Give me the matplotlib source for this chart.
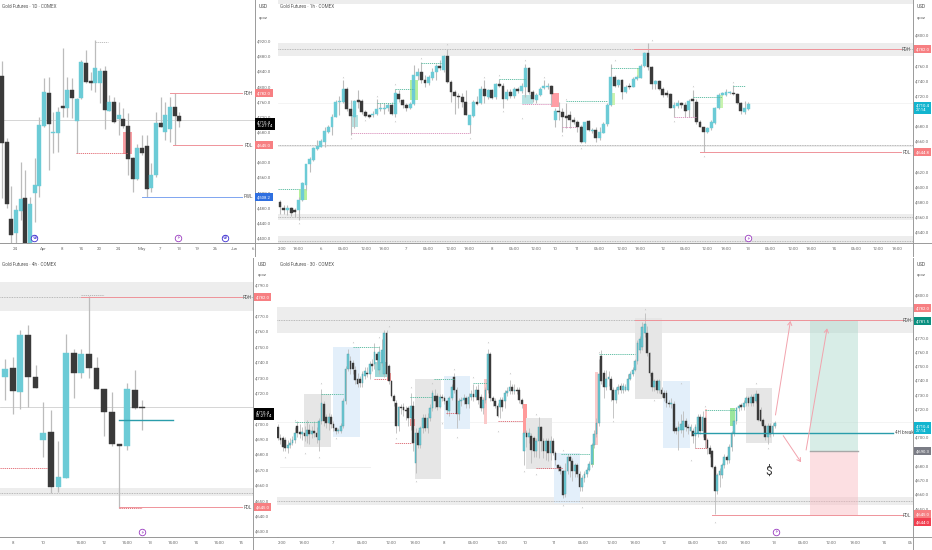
import matplotlib
matplotlib.use("Agg")
import matplotlib.pyplot as plt
from matplotlib.patches import Rectangle
from matplotlib.lines import Line2D
from matplotlib.transforms import blended_transform_factory as btf

plt.rcParams['font.family'] = ['Roboto', 'DejaVu Sans']

W, H = 932, 550
TEAL, BLACK, WICK = '#6ccbd6', '#3a3a3a', '#bcbcbc'
GREY_TXT = '#6a6a6a'
SALMON, GREEN_TAG, BLUE_TAG, CYAN_TAG, RED_TAG, GREY_TAG = '#f77f82', '#0a8f7f', '#2f6fe0', '#12b5cf', '#f23f50', '#7a7c85'

# ---------- 1D ----------
o1 = [4827,4653,4448,4413,4471,4506,4381,4519,4537,4696,4782,4675,4677,4746,4741,4790,4709,4768,4862,4812,4809,4809,4841,4735,4758,4713,4712,4696,4610,4554,4636,4642,4532,4566,4702,4680,4688,4744,4721]
c1 = [4649,4489,4407,4473,4502,4385,4489,4539,4697,4784,4700,4677,4733,4743,4790,4770,4766,4865,4812,4809,4848,4841,4737,4757,4706,4724,4696,4607,4555,4636,4623,4529,4566,4702,4693,4724,4744,4721,4708]
h1 = [4867,4662,4536,4486,4599,4579,4508,4609,4718,4821,4823,4733,4746,4902,4823,4821,4768,4869,4895,4838,4922,4847,4853,4777,4772,4759,4741,4728,4614,4647,4671,4671,4596,4733,4772,4759,4772,4783,4733]
l1 = [4504,4477,4381,4381,4447,4381,4381,4442,4508,4693,4579,4624,4627,4719,4718,4715,4624,4766,4809,4790,4785,4755,4686,4735,4704,4671,4689,4565,4521,4552,4618,4508,4521,4561,4691,4658,4653,4645,4693]
xt1 = [2.9,8.9,12.9,16.9,20.9,24.9,29.9,33.9,37.9,41.9,45.7,49.7,53.7]
xl1 = ['24','Apr','8','14','20','24','May','7','13','19','26','Jun','6']
yt1 = [4920,4880,4840,4800,4760,4720,4680,4600,4560,4520,4480,4440,4400]

# ---------- 1h ----------
o2 = [4579,4571,4569,4571,4568,4568,4582,4602,4629,4635,4649,4652,4659,4672,4679,4692,4711,4712,4728,4702,4692,4713,4713,4698,4694,4694,4695,4702,4702,4703,4707,4695,4722,4714,4707,4703,4709,4746,4751,4740,4737,4743,4751,4759,4754,4772,4738,4724,4720,4718,4712,4681,4693,4712,4710,4729,4718,4727,4718,4735,4733,4716,4724,4720,4728,4726,4731,4757,4724,4714,4721,4730,4731,4732,4688,4699,4698,4693,4694,4688,4685,4679,4658,4686,4673,4674,4664,4671,4682,4707,4745,4734,4741,4725,4732,4731,4742,4743,4759,4776,4758,4735,4739,4728,4722,4722,4703,4706,4710,4707,4701,4714,4712,4685,4678,4672,4677,4684,4703,4721,4721,4723,4723,4722,4710,4698,4702]
c2 = [4572,4569,4571,4565,4566,4582,4604,4629,4636,4650,4653,4660,4673,4679,4692,4712,4712,4728,4702,4693,4713,4712,4698,4693,4692,4695,4702,4703,4704,4707,4695,4723,4715,4707,4703,4709,4747,4751,4740,4737,4744,4751,4759,4756,4772,4738,4724,4719,4718,4712,4694,4694,4712,4709,4729,4720,4727,4717,4735,4733,4716,4724,4720,4728,4726,4733,4757,4724,4715,4721,4729,4732,4732,4722,4699,4698,4691,4690,4688,4685,4679,4658,4685,4674,4675,4664,4672,4682,4707,4745,4733,4740,4725,4731,4731,4742,4745,4759,4776,4758,4735,4739,4728,4721,4721,4704,4707,4710,4707,4700,4713,4713,4685,4678,4672,4677,4685,4703,4721,4723,4724,4723.5,4722,4710,4700,4703,4709]
h2 = [4582,4575,4575,4573,4571,4586,4606,4630,4639,4652,4661,4663,4679,4681,4696,4714,4720,4740,4731,4714,4714,4727,4716,4701,4696,4699,4716,4710,4710,4710,4712,4729,4727,4716,4710,4712,4760,4756,4764,4747,4747,4756,4762,4767,4773,4782,4740,4727,4723,4723,4727,4694,4714,4720,4732,4740,4729,4729,4737,4742,4736,4729,4729,4731,4731,4736,4762,4758,4727,4723,4731,4740,4736,4734,4703,4712,4703,4710,4699,4692,4688,4681,4685,4688,4677,4679,4679,4685,4710,4762,4747,4742,4742,4734,4736,4745,4747,4762,4778,4789,4759,4740,4740,4731,4727,4723,4712,4714,4712,4712,4716,4727,4716,4688,4679,4679,4687,4705,4723,4725,4728,4726,4734,4723,4712,4713,4711]
l2 = [4564,4564,4562,4561,4560,4556,4580,4595,4619,4633,4648,4652,4652,4670,4668,4691,4694,4710,4699,4668,4677,4703,4696,4691,4690,4692,4694,4699,4696,4699,4694,4692,4712,4704,4700,4702,4707,4740,4736,4731,4734,4740,4740,4754,4751,4736,4712,4696,4703,4705,4694,4670,4692,4707,4709,4710,4716,4716,4716,4731,4703,4714,4717,4717,4723,4723,4718,4722,4712,4710,4719,4729,4729,4707,4679,4688,4672,4677,4677,4683,4672,4657,4657,4673,4670,4659,4661,4670,4680,4706,4731,4731,4716,4723,4729,4731,4740,4743,4758,4754,4729,4729,4727,4718,4718,4703,4691,4704,4704,4692,4692,4692,4683,4678,4645,4671,4674,4683,4702,4721,4719,4722,4721,4709,4696,4696,4701]
xt2 = [0.5,5,11,17,23.1,28,33.9,40,46,51,57,63,69,74,80,86,92,97,103,109,115,120,126,132,138,143,149,155,161,166]
xl2 = ['2:00','18:00','6','06:00','12:00','18:00','7','06:00','12:00','18:00','8','06:00','12:00','10','11','06:00','12:00','18:00','12','06:00','12:00','18:00','13','06:00','12:00','18:00','14','06:00','12:00','18:00']
yt2 = [4800,4760,4740,4720,4680,4660,4620,4600,4580,4560,4540]

# ---------- 4h ----------
o3 = [4730,4736,4720.6,4757.4,4729.9,4689.3,4694.6,4658.8,4664.6,4745.5,4732.5,4745,4735.7,4722,4707.6,4686.1,4685.2,4721.9,4710.1]
c3 = [4735.5,4721,4757.4,4729.9,4723,4693.9,4658.8,4664.9,4745.5,4732.5,4745,4736.2,4722.3,4707.1,4686.3,4685.2,4722,4710.1,4709.7]
h3 = [4741.6,4743,4760.6,4763.9,4738,4713.6,4708.6,4688.5,4757.8,4748.3,4748.3,4783,4742.9,4722,4720.1,4686.1,4726,4734.6,4714.9]
l3 = [4715,4706,4709.3,4710.8,4722.7,4678.3,4654.5,4655.5,4664.2,4716.2,4729.7,4729.2,4722.3,4691.7,4685.4,4644.7,4682.6,4709.3,4695.6]
xt3 = [1,5,10,13,16,19,22,25,28,31]
xl3 = ['8','10','14:00','12','14:00','13','14:00','14','14:00','15']
yt3 = [4790,4770,4760,4750,4740,4730,4720,4700,4690,4680,4670,4660,4650,4640,4630]

# ---------- 30m ----------
o4 = [4707,4699,4699,4698,4692,4694,4696,4698,4708,4703,4702,4703,4701,4705,4702,4704,4703,4698,4711,4723,4714,4710,4714,4709,4706,4704,4704,4708,4725,4748,4753,4752,4747,4741,4741,4738,4743,4745,4744,4751,4751,4758,4747,4752,4744,4773,4750,4739,4729,4724,4708,4721,4721,4719,4720,4713,4722,4682,4703,4694,4706,4713,4706,4713,4720,4729,4729,4721,4728,4727,4725,4718,4727,4742,4733,4716,4725,4726,4727,4723,4728,4730,4728,4733,4728,4720,4726,4733,4758,4727,4725,4722,4721,4726,4725,4731,4732,4735,4732,4733,4733,4726,4690,4703,4700,4701,4699,4690,4697,4707,4697,4690,4697,4689,4697,4689,4680,4679,4676,4660,4676,4686,4683,4676,4680,4674,4665,4671,4674,4677,4681,4694,4702,4710,4757,4745,4735,4741,4741,4733,4726,4733,4736,4733,4733,4733,4741,4744,4747,4753,4761,4763,4773,4773,4759,4745,4735,4739,4733,4733,4731,4731,4724,4723,4723,4706,4704,4705,4705,4711,4707,4704,4704,4701,4703,4714,4704,4713,4698,4692,4690,4679,4662,4673,4673,4680,4686,4684,4693,4703,4711,4720,4722,4721,4724,4727,4724,4728,4725,4730,4719,4712,4708,4700,4708,4703,4708]
c4 = [4699,4698,4693,4692,4694,4696,4698,4703,4703,4702,4703,4701,4705,4702,4704,4703,4700,4711,4724,4711,4710,4714,4709,4706,4704,4704.5,4708,4725,4748,4758,4748,4748,4740,4737,4738,4744,4746,4744,4751,4750,4760,4754,4760,4761,4773,4744,4739,4729,4725,4708,4721,4720,4719,4718,4713,4722,4696,4703,4694,4706,4713,4706,4713,4720,4731,4725,4721,4728,4727,4725,4719,4727,4735,4733,4716,4725,4726,4727,4723,4728,4730,4728,4733,4726,4720,4726,4733,4758,4727,4725,4722,4715,4726,4721,4731,4732,4735,4732,4733,4732,4726,4723,4703,4700,4703,4691,4690,4697,4707,4697,4690,4697,4689,4697,4689,4684,4678,4676,4659,4676,4686,4683,4676,4680,4674,4665,4671,4674,4677,4681,4694,4702,4710,4744,4739,4735,4741,4742,4733,4726,4733,4735,4733,4736,4735,4741,4744,4747,4753,4766,4769,4777,4779,4759,4745,4735,4739,4733,4739,4730,4727,4724,4723,4724,4704,4704,4707,4709,4711,4707,4706,4707,4701,4707,4714,4704,4714,4698,4692,4688,4679,4662,4673,4676,4680,4686,4684,4693,4703,4711,4720,4722,4721,4724,4727,4724,4728,4724,4730,4712,4711,4708,4700,4708,4702,4708,4710]
h4 = [4709,4702,4701,4700,4698,4699,4701,4707,4711,4709,4707,4708,4712,4709,4708,4711,4707,4713,4734,4725,4716,4717,4716,4711,4707,4706,4710,4727,4750,4762,4757,4754,4750,4745,4743,4746,4749,4749,4753,4755,4766,4760,4764,4769,4775,4775,4751,4740,4730,4726,4722,4723,4724,4722,4722,4731,4725,4706,4705,4708,4716,4716,4717,4723,4733,4734,4731,4730,4730,4729,4726,4729,4737,4745,4735,4727,4728,4730,4729,4731,4733,4737,4736,4737,4730,4728,4735,4762,4760,4729,4727,4724,4728,4728,4733,4735,4740,4737,4737,4735,4735,4727,4705,4705,4706,4703,4701,4699,4714,4708,4699,4699,4699,4701,4699,4690,4681,4680,4677,4682,4688,4687,4685,4682,4682,4676,4673,4676,4679,4683,4696,4705,4713,4755,4761,4747,4747,4746,4743,4735,4735,4737,4738,4738,4737,4744,4746,4749,4755,4768,4771,4781,4787,4778,4760,4746,4741,4741,4741,4735,4733,4733,4726,4727,4725,4708,4711,4716,4718,4713,4709,4709,4706,4709,4716,4716,4718,4715,4699,4694,4691,4680,4675,4678,4682,4688,4687,4695,4704,4712,4721,4723,4724,4726,4729,4729,4730,4730,4733,4731,4721,4713,4709,4710,4710,4710,4711]
l4 = [4698,4695,4690,4690,4689,4692,4694,4696,4700,4699,4698,4697,4696,4695,4699,4700,4696,4690,4709,4708,4706,4705,4706,4704,4702,4703,4703,4706,4723,4746,4744,4744,4737,4735,4735,4735,4741,4742,4741,4746,4748,4751,4744,4750,4742,4742,4737,4728,4722,4703,4704,4716,4715,4712,4708,4705,4690,4675,4692,4692,4703,4704,4703,4711,4718,4720,4719,4720,4725,4723,4716,4715,4726,4731,4706,4712,4722,4723,4720,4720,4726,4725,4726,4723,4718,4716,4724,4731,4725,4722,4720,4714,4713,4718,4720,4729,4730,4730,4730,4730,4724,4720,4680,4693,4696,4682,4686,4686,4685,4690,4685,4684,4683,4684,4687,4680,4676,4674,4657,4658,4674,4672,4669,4672,4672,4662,4662,4668,4672,4676,4679,4692,4700,4708,4737,4727,4733,4736,4725,4713,4724,4730,4731,4731,4732,4732,4740,4743,4746,4751,4759,4761,4770,4757,4743,4732,4732,4731,4731,4728,4725,4721,4721,4720,4703,4702,4691,4703,4700,4704,4702,4701,4696,4692,4700,4702,4700,4692,4688,4686,4678,4646,4660,4665,4671,4678,4681,4682,4690,4701,4709,4718,4719,4719,4722,4722,4722,4722,4724,4711,4709,4706,4698,4695,4700,4701,4706]
xt4 = [1.5,10.8,22.8,34.8,46.8,56.8,68.8,80.8,92.8,102.3,114.3,126.3,138.3,147.9,159.9,171.9,183.9,193.8,205.8,217.8,229.4,239.4,251.4,262]
xl4 = ['2:00','18:00','7','06:00','12:00','18:00','8','06:00','12:00','10','11','06:00','12:00','18:00','12','06:00','12:00','18:00','13','06:00','12:00','18:00','14','06']
yt4 = [4800,4770,4760,4750,4740,4730,4720,4700,4680,4670,4660,4650]

CUR = 4710.4

# grey bands: (top, bottom, dotted level)
bands2 = [(4846, 4841, None), (4790, 4772, 4781.5), (4654.6, 4652, 4654), (4564, 4555, 4560), (4534, 4525, 4527)]
bands3 = [(4791.6, 4773, 4782.3), (4657.7, 4653, 4655)]
bands4 = [(4791, 4773, 4782), (4657.6, 4652.2, 4655)]

# boxes: x0, x1, y0, y1, colour, alpha
boxes1 = [(26, 27.9, 4622, 4680, '#fa9ea3', 1)]
boxes2 = [(35, 37.2, 4714, 4740, '#b6f09b', 1), (5, 7.2, 4582, 4597, '#b6f09b', 1),
          (19, 21, 4678, 4694, '#b7e3e3', 1), (65, 68, 4709, 4721, '#b7e3e3', 1),
          (72.9, 75, 4705, 4723, '#ff9ea5', 1), (88.5, 90, 4707, 4723, '#c9f3b0', 1),
          (96, 97.5, 4743, 4756, '#c9f3b0', 1), (117.7, 119.2, 4703, 4721, '#c9f3b0', 1)]
BOXG, BOXB = '#e6e6e6', '#e3effa'
boxes4 = [(10.9, 21.9, 4693, 4730, BOXG, 1), (22.6, 34.1, 4700, 4763, BOXB, 1),
          (40.3, 45.7, 4742.4, 4752.4, '#9fd8d8', 1), (45, 46.8, 4739, 4745, '#ff9a9a', 1),
          (54.8, 56.7, 4708, 4712.4, '#ff9a9a', 1), (56.7, 67.7, 4670.2, 4740.7, BOXG, 1),
          (68.8, 79.4, 4705.4, 4742.8, BOXB, 1), (85.4, 86.8, 4709, 4741, '#fbcaca', 1),
          (101.4, 103.4, 4702.6, 4723, '#ff9a9a', 1), (102.6, 113.4, 4677.5, 4713.6, BOXG, 1),
          (114.3, 125.1, 4653.4, 4688.5, BOXB, 1), (131.6, 132.6, 4694.4, 4745.4, '#fbcaca', 1),
          (129.7, 130.9, 4680, 4694, '#9be69b', 1), (148, 159, 4726.4, 4783.4, BOXG, 1),
          (159.7, 170.9, 4692, 4739.3, BOXB, 1), (193.8, 204.8, 4695.5, 4734.6, BOXG, 1),
          (177, 178, 4692, 4719.4, '#fbcaca', 1), (187.5, 189.5, 4708, 4720, '#9be69b', 1)]
pos_x = (220.7, 240.4)
pos_tp, pos_entry, pos_sl = 4781.7, 4690.4, 4645.2

# dashed structure lines: x0, x1, y
dr1 = [(15.9, 27, 4624)]
dgrey1 = [(20, 22.8, 4917)]
dg2 = [(-0.5, 5, 4597), (31, 36, 4729), (26, 31, 4710), (38, 43.5, 4763), (59, 66, 4742), (77, 88, 4713), (89, 96.5, 4757), (111, 119, 4718), (122, 125, 4733)]
dr2 = [(19, 51, 4670.8), (65, 73, 4708.8), (76, 80, 4678), (106, 112, 4691)]
dr3 = [(-0.6, 5.5, 4670.7), (15, 18, 4644.8)]
dgrey3 = [(10, 13, 4783.4)]
dg4 = [(7, 17, 4710.8), (18, 27.4, 4730), (31, 42, 4763), (64.7, 73, 4741), (54.8, 64, 4728), (81, 86.8, 4737.7), (117.5, 129.5, 4688), (133, 148, 4758), (177, 190, 4719)]
dr4 = [(40, 45, 4740.7), (48.6, 55.5, 4696), (91.3, 101.5, 4711.5), (107, 118, 4678), (69.5, 74.8, 4716.6), (173, 178, 4692)]

# pivot marks: x, y
piv2 = [(5, 4552), (17, 4745), (19, 4664), (23, 4687), (26, 4720), (31, 4735), (31, 4686), (38, 4769), (45, 4788), (51, 4664), (55, 4745), (60, 4699), (59, 4747), (65, 4690), (66, 4767), (71, 4745), (77, 4716), (76, 4668), (81, 4650), (90, 4767), (100, 4793), (106, 4686), (111, 4732), (114, 4640), (122, 4738)]
piv4 = [(3, 4686), (7, 4712), (11, 4689), (17, 4686), (18, 4738), (24, 4699), (31, 4767), (42, 4770), (46, 4778), (49, 4699), (55, 4735), (57, 4669), (64, 4738), (68, 4710), (73, 4748), (74, 4700), (81, 4742), (87, 4767), (91, 4704), (96, 4745), (102, 4676), (107, 4716), (107, 4674), (118, 4652), (118, 4691), (126, 4651), (133, 4760), (139, 4711), (152, 4790), (156, 4726), (167, 4738), (171, 4684), (177, 4722), (181, 4640), (198, 4738), (203, 4692)]

fig = plt.figure(figsize=(W / 100, H / 100), dpi=100, facecolor='white')
TICK_FS, TAG_FS, LAB_FS = 3.2, 3.1, 3.3


def make_ax(x0, y0, x1, y1, xlim, ylim):
    ax = fig.add_axes([x0 / W, 1 - y1 / H, (x1 - x0) / W, (y1 - y0) / H])
    ax.patch.set_alpha(0)
    ax.set_xlim(*xlim)
    ax.set_ylim(*ylim)
    for s in ('top', 'left'):
        ax.spines[s].set_visible(False)
    for s in ('right', 'bottom'):
        ax.spines[s].set_color('#9a9a9a')
        ax.spines[s].set_linewidth(0.7)
    ax.yaxis.tick_right()
    ax.tick_params(axis='both', length=0, labelsize=TICK_FS, labelcolor=GREY_TXT)
    ax.tick_params(axis='y', pad=1.6)
    ax.tick_params(axis='x', pad=2.8)
    return ax


def candles(ax, o, c, h, l, width, lw=0.8, teal_edge=None):
    xs = range(len(o))
    ax.vlines(xs, l, h, color=WICK, lw=lw, zorder=3)
    cols = [TEAL if cc >= oo else BLACK for oo, cc in zip(o, c)]
    edges = [(teal_edge or TEAL) if cc >= oo else BLACK for oo, cc in zip(o, c)]
    bot = [min(a, b) for a, b in zip(o, c)]
    hgt = [max(abs(a - b), (ax.get_ylim()[1] - ax.get_ylim()[0]) * 0.006) for a, b in zip(o, c)]
    ax.bar(list(xs), hgt, width=width, bottom=bot, color=cols, edgecolor=edges, lw=0.3, zorder=4)


def ticks(ax, xt, xl, yt):
    ax.set_xticks(xt, xl)
    ax.set_yticks(yt, [f'{v:,.1f}' for v in yt])


def draw_bands(ax, bands):
    for top, bot, lev in bands:
        ax.axhspan(bot, top, color='#ededed', lw=0, zorder=1)
        if lev is not None:
            ax.axhline(lev, color='#a8a8a8', lw=0.6, ls=(0, (1, 1)), zorder=2)


def draw_boxes(ax, boxes, z=1.5):
    for x0, x1, y0, y1, col, a in boxes:
        ax.add_patch(Rectangle((x0, y0), x1 - x0, y1 - y0, color=col, alpha=a, lw=0, zorder=z))


def dashed(ax, segs, col, lw=0.6):
    for x0, x1, y in segs:
        ax.plot([x0, x1], [y, y], color=col, lw=lw, ls=(0, (1.5, 1)), zorder=5)


def level(ax, x0, x1, y, lab, col, labx):
    ax.plot([x0, x1], [y, y], color=col, lw=0.7, zorder=5)
    ax.text(labx, y, lab, fontsize=LAB_FS, color='#555555', va='center', ha='center', zorder=6)


def tag(ax, y, txt, col, off=0.0, tc='white'):
    tr = btf(ax.transAxes, ax.transData)
    ax.text(1.0 + off, y, txt, transform=tr, fontsize=TAG_FS, color=tc, va='center', ha='left', linespacing=1.1,
            bbox=dict(boxstyle='square,pad=0.45', fc=col, ec='none'), clip_on=False, zorder=10)


def icon(ax, x, y, col, ch):
    ax.scatter([x], [y], s=22, facecolor='white', edgecolor=col, lw=0.6, zorder=8)
    ax.text(x, y, ch, color=col, fontsize=3.6, ha='center', va='center', family=['DejaVu Sans'], zorder=9)


def title(ax, s, y):
    fig.text(ax.get_position().x0 + 2.5 / W, 1 - y / H, s, fontsize=LAB_FS, color='#555555', va='center')


def pivots(ax, pts):
    ax.scatter([p[0] for p in pts], [p[1] for p in pts], s=1.2, marker='^', color='#c4c4c4', lw=0, zorder=6)


PINK, BLUE_LN = '#ef939a', '#7fa5f0'

# ---- panel 1: 1D
a1 = make_ax(0, 0, 255, 243, (-0.43, 54.2), (4385.9, 5027.4))
ticks(a1, xt1, xl1, yt1)
draw_boxes(a1, boxes1)
a1.axhline(CUR, color='#cfcfcf', lw=0.6, zorder=2)
candles(a1, o1, c1, h1, l1, 0.86, lw=0.9)
dashed(a1, dr1, '#e0606a')
dashed(a1, dgrey1, '#b5b5b5')
level(a1, 35.9, 51.4, 4781, 'PDH', PINK, 52.8)
level(a1, 36.7, 51.4, 4644, 'PDL', PINK, 52.8)
level(a1, 30, 51.4, 4508, 'PWL', BLUE_LN, 52.8)
tag(a1, 4781, '4,782.0', SALMON, 0.008)
tag(a1, 4700, '4,710.4\n16:27:14', '#000000', 0.008)
tag(a1, 4644, '4,645.0', SALMON, 0.008)
tag(a1, 4508, '4,508.2', BLUE_TAG, 0.008)
icon(a1, 6.9, 4400, '#3a2bd0', '\u2295')
icon(a1, 37.8, 4400, '#9a3bc0', '\u26a1')
icon(a1, 47.7, 4400, '#3a2bd0', '\u2295')
title(a1, 'Gold Futures \u00b7 1D \u00b7 COMEX', 7)

# ---- panel 2: 1h
a2 = make_ax(278, 0, 913, 243, (-0.54, 170.3), (4525, 4846.3))
ticks(a2, xt2, xl2, yt2)
draw_bands(a2, bands2)
draw_boxes(a2, boxes2)
a2.axhline(CUR, color='#f0f0f0', lw=0.5, zorder=1.2)
candles(a2, o2, c2, h2, l2, 0.78)
dashed(a2, dg2, '#4fb79a')
dashed(a2, dr2, '#d78ab8')
pivots(a2, piv2)
level(a2, 95.3, 167, 4781, 'PDH', PINK, 168.6)
level(a2, 113, 167, 4645, 'PDL', PINK, 168.6)
tag(a2, 4781, '4,782.0', SALMON, 0.004)
tag(a2, 4704, '4,710.4\n27:14', CYAN_TAG, 0.004)
tag(a2, 4645, '4,644.8', SALMON, 0.004)
icon(a2, 126, 4531, '#9a3bc0', '\u26a1')
title(a2, 'Gold Futures \u00b7 1h \u00b7 COMEX', 7)

# ---- panel 3: 4h
a3 = make_ax(0, 258, 253, 537, (-0.66, 32.5), (4626.1, 4807.4))
ticks(a3, xt3, xl3, yt3)
draw_bands(a3, bands3)
a3.axhline(CUR, color='#cfcfcf', lw=0.6, zorder=2)
candles(a3, o3, c3, h3, l3, 0.76, lw=0.9)
dashed(a3, dr3, '#e0606a')
dashed(a3, dgrey3, '#b0b0b0')
level(a3, 10, 31.1, 4782, 'PDH', PINK, 31.8)
level(a3, 15, 31.1, 4645.4, 'PDL', PINK, 31.8)
a3.plot([15, 22], [4702.4, 4702.4], color='#2a9dab', lw=1.0, zorder=5)
tag(a3, 4782, '4,782.0', SALMON, 0.01)
tag(a3, 4706, '4,710.4\n01:27:14', '#000000', 0.01)
tag(a3, 4645.4, '4,645.0', SALMON, 0.01)
icon(a3, 18, 4629.5, '#9a3bc0', '\u26a1')
title(a3, 'Gold Futures \u00b7 4h \u00b7 COMEX', 265)

# ---- panel 4: 30m
a4 = make_ax(277, 258, 913, 537, (-0.41, 263.2), (4629.7, 4825.7))
ticks(a4, xt4, xl4, yt4)
draw_bands(a4, bands4)
draw_boxes(a4, boxes4)
a4.axhline(CUR, color='#f0f0f0', lw=0.5, zorder=1.2)
a4.plot([1, 38], [4679, 4679], color='#ececec', lw=0.6, zorder=1.2)
a4.add_patch(Rectangle((pos_x[0], pos_entry), pos_x[1] - pos_x[0], pos_tp - pos_entry, color='#a9d8cb', alpha=0.45, lw=0, zorder=3))
a4.add_patch(Rectangle((pos_x[0], pos_sl), pos_x[1] - pos_x[0], pos_entry - pos_sl, color='#f9b8c0', alpha=0.45, lw=0, zorder=3))
a4.plot(pos_x, [pos_entry, pos_entry], color='#a8a8a8', lw=1.0, zorder=4)
candles(a4, o4, c4, h4, l4, 0.72, lw=0.6, teal_edge='#4f9aa3')
dashed(a4, dg4, '#4fb79a')
dashed(a4, dr4, '#d9606a')
pivots(a4, piv4)
level(a4, 148, 259, 4782, 'PDH', PINK, 260.8)
level(a4, 180, 259, 4645, 'PDL', PINK, 260.8)
a4.plot([172, 255], [4703, 4703], color='#2a9dab', lw=1.0, zorder=6)
a4.text(259.6, 4703, '4H break', fontsize=LAB_FS, color='#555555', va='center', ha='center', zorder=7)
for (xa, ya, xb, yb) in [(206.2, 4715.4, 212.4, 4781.5), (209.4, 4700.9, 216.8, 4682.2), (218.9, 4690.8, 227.6, 4776.3)]:
    a4.annotate('', xy=(xb, yb), xytext=(xa, ya), zorder=7,
                arrowprops=dict(arrowstyle='->,head_length=0.25,head_width=0.15', color='#f2a3ad', lw=0.7, shrinkA=0, shrinkB=0))
a4.text(203.4, 4675.6, '$', fontsize=8.5, color='#333333', ha='center', va='center', zorder=7)
tag(a4, 4790.6, '4,782.0', SALMON, 0.004)
tag(a4, 4781.5, '4,781.5', GREEN_TAG, 0.004)
tag(a4, 4706, '4,710.4\n27:14', CYAN_TAG, 0.004)
tag(a4, 4690.4, '4,690.3', GREY_TAG, 0.004)
tag(a4, 4645.6, '4,645.0', SALMON, 0.004)
tag(a4, 4640.2, '4,644.0', RED_TAG, 0.004)
icon(a4, 206.6, 4633.5, '#9a3bc0', '\u26a1')
title(a4, 'Gold Futures \u00b7 30 \u00b7 COMEX', 265)

# price-scale heads
for px, py in [(259, 7), (258, 264), (917, 7), (917, 264)]:
    fig.text(px / W, 1 - py / H, 'USD', fontsize=3.4, color='#444444', va='center')
    fig.text(px / W, 1 - (py + 11) / H, 'apoz', fontsize=3.0, color='#555555', va='center')

# frame rules between panels
for x0, x1, y in [(0, 278, 243), (0, 278, 537), (913, 932, 243), (913, 932, 537)]:
    fig.add_artist(Line2D([x0 / W, x1 / W], [1 - y / H, 1 - y / H], color='#9a9a9a', lw=0.7))
for x, y0, y1 in [(255, 243, 256), (253, 537, 550), (913, 243, 256), (913, 537, 550)]:
    fig.add_artist(Line2D([x / W, x / W], [1 - y0 / H, 1 - y1 / H], color='#9a9a9a', lw=0.7))

fig.savefig('out.png', dpi=100, facecolor='white')
